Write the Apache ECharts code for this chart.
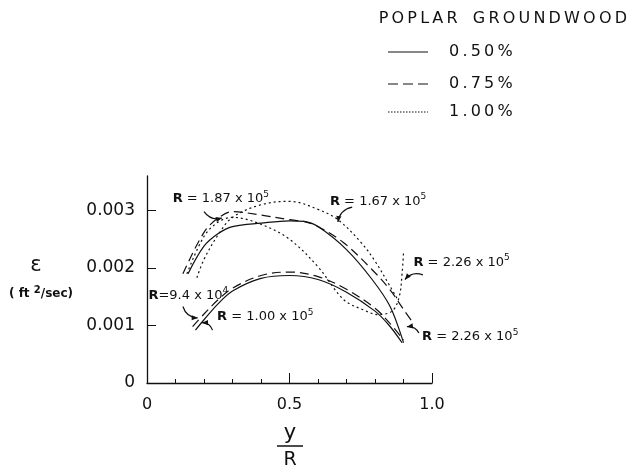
<!DOCTYPE html>
<html>
<head>
<meta charset="utf-8">
<script src="https://cdn.jsdelivr.net/npm/echarts@6/dist/echarts.min.js"></script>
<style>
  html, body { margin: 0; padding: 0; background: #fff; }
  #chart { width: 633px; height: 473px; }
</style>
</head>
<body>
<div id="chart"></div>
<script>
// Eddy diffusivity profiles across the pipe radius, poplar groundwood suspensions.
// Each curve: [y/R, epsilon (ft^2/sec)].

// 0.50 % consistency (solid)
const solidLowR100k = [
  [0.17, 0.00092], [0.20, 0.00110], [0.25, 0.00138], [0.30, 0.00160], [0.40, 0.00182],
  [0.50, 0.00187], [0.60, 0.00180], [0.70, 0.00158], [0.80, 0.00125], [0.85, 0.00100], [0.895, 0.00070]
];
const solidHighR226k = [
  [0.144, 0.00190], [0.20, 0.00238], [0.25, 0.00260], [0.30, 0.00272], [0.40, 0.00278],
  [0.50, 0.00282], [0.55, 0.00281], [0.60, 0.00272], [0.70, 0.00232], [0.79, 0.00180],
  [0.853, 0.00133], [0.90, 0.00070]
];

// 0.75 % consistency (dashed)
const dashedLowR94k = [
  [0.16, 0.00098], [0.20, 0.00120], [0.25, 0.00145], [0.30, 0.00165], [0.40, 0.00187],
  [0.50, 0.00193], [0.60, 0.00185], [0.70, 0.00163], [0.80, 0.00130], [0.85, 0.00105], [0.90, 0.00075]
];
const dashedHighR187k = [
  [0.126, 0.00190], [0.20, 0.00262], [0.25, 0.00287], [0.30, 0.00298], [0.40, 0.00292],
  [0.50, 0.00284], [0.55, 0.00281], [0.60, 0.00272], [0.69, 0.00244], [0.79, 0.00197],
  [0.853, 0.00162], [0.90, 0.00128], [0.933, 0.00105]
];

// 1.00 % consistency (dotted)
const dottedR167k = [
  [0.175, 0.00183], [0.20, 0.00215], [0.25, 0.00258], [0.30, 0.00288], [0.40, 0.00310],
  [0.50, 0.00316], [0.60, 0.00302], [0.67, 0.00284], [0.75, 0.00245], [0.80, 0.00212],
  [0.853, 0.00168], [0.88, 0.00145]
];
const dottedR226k = [
  [0.14, 0.00190], [0.20, 0.00255], [0.25, 0.00280], [0.30, 0.00288], [0.40, 0.00276],
  [0.50, 0.00250], [0.60, 0.00202], [0.69, 0.00145], [0.76, 0.00127], [0.81, 0.00119],
  [0.86, 0.00125], [0.885, 0.00150], [0.895, 0.00190], [0.90, 0.00227]
];

// axis ticks
const xTickLabels = [0, 0.5, 1.0];
const yTickLabels = [0, 0.001, 0.002, 0.003];

// legend entries
const legendTitle = 'POPLAR GROUNDWOOD';
const legendNames = ['0.50%', '0.75%', '1.00%'];

// curve annotations: text, anchor [y/R, eps], arrow from -> to
const notes = [
  { r: '1.87', e: '5', at: [0.09, 0.00320], from: [0.20, 0.00298], to: [0.263, 0.00287] },
  { r: '1.67', e: '5', at: [0.642, 0.00316], from: [0.72, 0.00306], to: [0.67, 0.00280] },
  { r: '2.26', e: '5', at: [0.935, 0.00210], from: [0.968, 0.00188], to: [0.905, 0.00180] },
  { r: '9.4', e: '4', at: [0.005, 0.00152], from: [0.126, 0.00133], to: [0.178, 0.00113], tight: true },
  { r: '1.00', e: '5', at: [0.246, 0.00115], from: [0.23, 0.00092], to: [0.193, 0.00105] },
  { r: '2.26', e: '5', at: [0.965, 0.00080], from: [0.954, 0.00087], to: [0.912, 0.00098] }
];

const FONT = 'DejaVu Sans';
const INK = '#111';
const THIN = '\u2009';
const spaced = s => s.split(' ').map(w => w.split('').join(THIN)).join('   ');

const styleSolid = 'solid';
const styleDashed = [9, 5];
const styleDotted = [2, 3];

function curve(data, type) {
  return {
    type: 'line', data: data, smooth: 0.35, showSymbol: false, silent: true,
    lineStyle: { color: INK, width: 1.2, type: type }
  };
}

const chart = echarts.init(document.getElementById('chart'), null, { renderer: 'canvas' });

const option = {
  animation: false,
  backgroundColor: '#fff',
  grid: { left: 147, right: 201, top: 176, bottom: 90 },
  xAxis: [{
    type: 'value', min: 0, max: 1, interval: 0.1,
    axisLine: { lineStyle: { color: INK, width: 1.3 } },
    axisTick: { inside: true, length: 4, lineStyle: { color: INK } },
    axisLabel: {
      customValues: xTickLabels, margin: 14, color: INK, fontFamily: FONT, fontSize: 16,
      formatter: v => (v === 0 ? '0' : v.toFixed(1))
    },
    splitLine: { show: false }
  }, {
    type: 'value', min: 0, max: 1, position: 'bottom',
    axisLine: { show: false },
    axisTick: { inside: true, length: 10, customValues: [0.5, 1.0], lineStyle: { color: INK } },
    axisLabel: { show: false },
    splitLine: { show: false }
  }],
  yAxis: {
    type: 'value', min: 0, max: 0.0036,
    axisLine: { show: true, lineStyle: { color: INK, width: 1.3 } },
    axisTick: { show: true, inside: true, length: 9, customValues: [0.001, 0.002, 0.003], lineStyle: { color: INK } },
    axisLabel: {
      customValues: yTickLabels, margin: 12, color: INK, fontFamily: FONT, fontSize: 17,
      formatter: v => (v === 0 ? '0' : v.toFixed(3))
    },
    splitLine: { show: false }
  },
  series: [
    curve(solidLowR100k, styleSolid),
    curve(solidHighR226k, styleSolid),
    curve(dashedLowR94k, styleDashed),
    curve(dashedHighR187k, styleDashed),
    curve(dottedR167k, styleDotted),
    curve(dottedR226k, styleDotted)
  ]
};
chart.setOption(option);

// annotations, legend and axis titles
const px = p => chart.convertToPixel({ gridIndex: 0 }, p);
const g = [];

const rich = {
  b: { fontFamily: FONT, fontSize: 13, fontWeight: 'bold', fill: INK },
  t: { fontFamily: FONT, fontSize: 13, fill: INK },
  s: { fontFamily: FONT, fontSize: 9, fill: INK, padding: [0, 0, 9, 0] }
};

notes.forEach(n => {
  const a = px(n.at);
  const eq = n.tight ? '=' : ' = ';
  g.push({
    type: 'text', x: a[0], y: a[1],
    style: {
      text: '{b|R}{t|' + eq + n.r + ' x 10}{s|' + n.e + '}',
      rich: rich, align: 'left', verticalAlign: 'middle'
    }
  });
  const f = px(n.from), t = px(n.to);
  const mx = (f[0] + t[0]) / 2, my = (f[1] + t[1]) / 2;
  const dx = t[0] - f[0], dy = t[1] - f[1];
  const cp = [mx - dy * 0.35, my + dx * 0.35];
  g.push({
    type: 'bezierCurve',
    shape: { x1: f[0], y1: f[1], x2: t[0], y2: t[1], cpx1: cp[0], cpy1: cp[1] },
    style: { stroke: INK, lineWidth: 1.2, fill: null }
  });
  const ang = Math.atan2(t[1] - cp[1], t[0] - cp[0]);
  const L = 6, W = 2.6;
  const bx = t[0] - L * Math.cos(ang), by = t[1] - L * Math.sin(ang);
  g.push({
    type: 'polygon',
    shape: { points: [[t[0], t[1]],
      [bx - W * Math.sin(ang), by + W * Math.cos(ang)],
      [bx + W * Math.sin(ang), by - W * Math.cos(ang)]] },
    style: { fill: INK }
  });
});

// legend
g.push({ type: 'text', x: 627, y: 19,
  style: { text: spaced(legendTitle), fontFamily: FONT, fontSize: 16, fill: INK, align: 'right', verticalAlign: 'middle' } });
const legendDash = [null, [10, 5], [1.5, 1.5]];
const rowY = [52, 84, 112];
legendNames.forEach((name, i) => {
  g.push({ type: 'line', shape: { x1: 388, y1: rowY[i], x2: 428, y2: rowY[i] },
    style: { stroke: INK, lineWidth: 1.1, lineDash: legendDash[i] } });
  g.push({ type: 'text', x: 449, y: rowY[i],
    style: { text: name.split('').join(THIN), fontFamily: FONT, fontSize: 16, fill: INK, verticalAlign: 'middle' } });
});

// y-axis title
g.push({ type: 'text', x: 36, y: 266,
  style: { text: 'ε', fontFamily: FONT, fontSize: 21, fill: INK, align: 'center', verticalAlign: 'middle' } });
g.push({ type: 'text', x: 41, y: 294,
  style: { text: '( ft {s|2}/sec)', fontFamily: FONT, fontSize: 12, fontWeight: 'bold', fill: INK,
    align: 'center', verticalAlign: 'middle',
    rich: { s: { fontFamily: FONT, fontSize: 10, fontWeight: 'bold', fill: INK, padding: [0, 0, 8, 0] } } } });

// x-axis title: y over R
g.push({ type: 'text', x: 290, y: 434,
  style: { text: 'y', fontFamily: FONT, fontSize: 21, fill: INK, align: 'center', verticalAlign: 'middle' } });
g.push({ type: 'line', shape: { x1: 277, y1: 446, x2: 303, y2: 446 }, style: { stroke: INK, lineWidth: 1.5 } });
g.push({ type: 'text', x: 290, y: 460,
  style: { text: 'R', fontFamily: FONT, fontSize: 19, fill: INK, align: 'center', verticalAlign: 'middle' } });

chart.setOption({ graphic: { elements: g } });
</script>
</body>
</html>
